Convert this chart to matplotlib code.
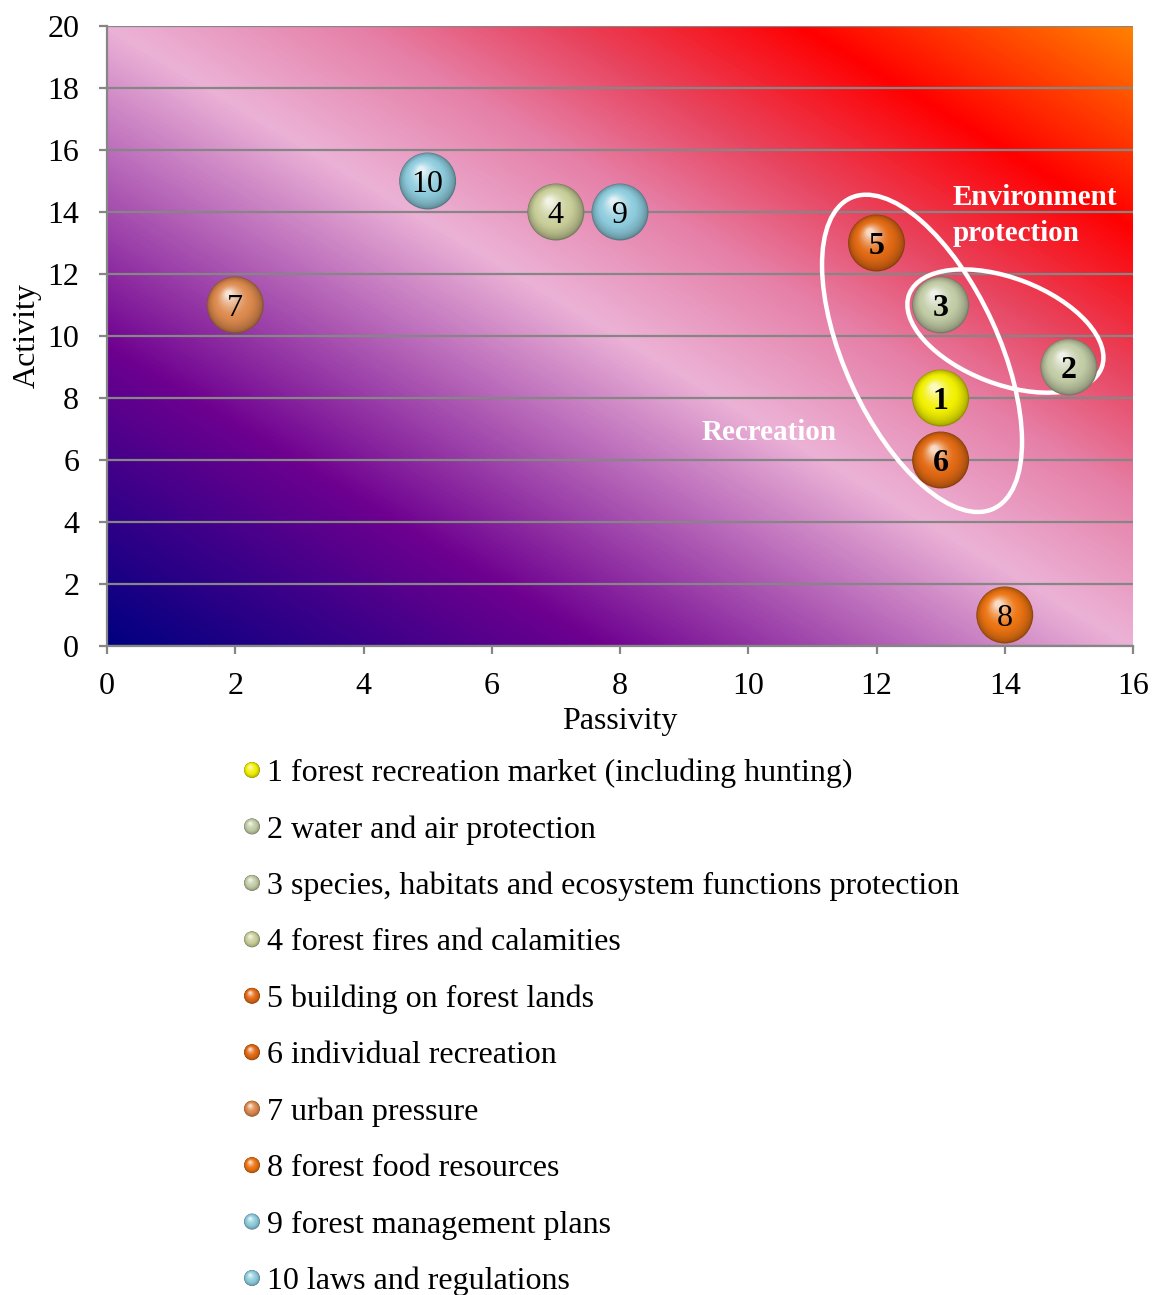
"""Matriz de actividad / pasividad de los factores forestales"""
import matplotlib
matplotlib.use("Agg")
import matplotlib.pyplot as plt
import numpy as np
from matplotlib.colors import LinearSegmentedColormap, to_rgb
from matplotlib.patches import Ellipse
from matplotlib.transforms import offset_copy, ScaledTranslation


# Datos
NUMEROS = [1, 2, 3, 4, 5, 6, 7, 8, 9, 10]
PASIVIDAD = [13, 15, 13, 7, 12, 13, 2, 14, 8, 5]
ACTIVIDAD = [8, 9, 11, 14, 13, 6, 11, 1, 14, 15]
NOMBRES = [
    "forest recreation market (including hunting)",
    "water and air protection",
    "species, habitats and ecosystem functions protection",
    "forest fires and calamities",
    "building on forest lands",
    "individual recreation",
    "urban pressure",
    "forest food resources",
    "forest management plans",
    "laws and regulations",
]
COLORES = ["#F2F000", "#C2CCA6", "#C2CCA6", "#CACF9A", "#E26A14",
           "#E26A14", "#DD8A4E", "#EC7412", "#8ECCDD", "#8ECCDD"]
NEGRITA = [True, True, True, False, True, True, False, False, False, False]

# Constantes
FUENTE = "Liberation Serif"
GRIS = "#868686"
TAM_TEXTO = 23
plt.rcParams["font.family"] = FUENTE

# Degradado del fondo (de esquina inferior izquierda a superior derecha)
FONDO = LinearSegmentedColormap.from_list("fondo", [
    (0.00, "#000080"), (0.24, "#6E0090"), (0.50, "#ECB2D6"),
    (0.62, "#E680A8"), (0.72, "#E8445E"), (0.84, "#FF0000"),
    (1.00, "#FF8000")])


def _esfera(eje, xs, ys, colores, diametro, zorder, transform=None):
    # Dibuja esferas sombreadas apilando círculos cada vez más claros
    if transform is None:
        transform = eje.transData
    base = np.array([to_rgb(c) for c in colores])
    oscuro = base * 0.6
    brillo = base + (1 - base) * 0.75
    capas = 30
    for i in range(capas):
        f = i / (capas - 1)
        tam = diametro * (1 - 0.88 * f)
        if f < 0.4:
            g = f / 0.4
            col = oscuro + (base - oscuro) * np.sqrt(g)
        else:
            g = (f - 0.4) / 0.6
            col = base + (brillo - base) * g ** 1.5
        desp = diametro * 0.5 * 0.38 * f
        tr = offset_copy(transform, fig=eje.figure, x=-desp * 0.6, y=desp,
                         units="points")
        eje.scatter(xs, ys, s=tam ** 2, c=np.clip(col, 0, 1), transform=tr,
                    linewidths=0, zorder=zorder, clip_on=False)


fig = plt.figure(figsize=(11.52, 12.95), dpi=100)
eje = fig.add_axes([107 / 1152, 1 - 646 / 1295, 1026 / 1152, 620 / 1295])
eje.set_xlim(0, 16)
eje.set_ylim(0, 20)

# Fondo degradado
u = np.linspace(0, 1, 600)
v = np.linspace(0, 1, 600)
U, V = np.meshgrid(u, v)
eje.imshow((U + V) / 2, cmap=FONDO, extent=[0, 16, 0, 20], origin="lower",
           aspect="auto", zorder=0, interpolation="bilinear")

eje.set_yticks(np.arange(0, 21, 2))
eje.set_xticks(np.arange(0, 17, 2))
eje.grid(axis="y", color=GRIS, linewidth=1.6, zorder=1)
eje.set_axisbelow(True)
for lado in ["top", "right"]:
    eje.spines[lado].set_visible(False)
for lado in ["left", "bottom"]:
    eje.spines[lado].set_color(GRIS)
    eje.spines[lado].set_linewidth(1.6)
eje.tick_params(direction="out", length=6, width=1.6, color=GRIS,
                labelsize=TAM_TEXTO)
eje.tick_params(axis="x", pad=13)
eje.tick_params(axis="y", pad=14)
eje.set_xlabel("Passivity", fontsize=TAM_TEXTO, labelpad=4)
eje.set_ylabel("Activity", fontsize=TAM_TEXTO, labelpad=4)

# Agrupaciones
for cx, cy, a, b, ang in [(12.71, 9.44, 171, 77, -65.3),
                          (14.01, 10.16, 103, 53, -20.9)]:
    tr = fig.dpi_scale_trans + ScaledTranslation(cx, cy, eje.transData)
    eje.add_patch(Ellipse((0, 0), 2 * a / 100, 2 * b / 100, angle=ang,
                          transform=tr, fill=False, edgecolor="white",
                          linewidth=3.2, zorder=3))

eje.text(13.18, 13.9, "Environment\nprotection", color="white",
         fontsize=21, fontweight="bold", ha="left", va="center",
         linespacing=1.42, zorder=4)
eje.text(10.32, 6.9, "Recreation", color="white", fontsize=21,
         fontweight="bold", ha="center", va="center", zorder=4)

# Puntos
_esfera(eje, PASIVIDAD, ACTIVIDAD, COLORES, 41, zorder=5)
for n, x, y, negrita in zip(NUMEROS, PASIVIDAD, ACTIVIDAD, NEGRITA):
    eje.text(x, y, str(n), fontsize=23, ha="center", va="center_baseline",
             fontweight="bold" if negrita else "normal", zorder=6)

# Leyenda
ley = fig.add_axes([0, 0, 1, 1], zorder=-1)
ley.set_xlim(0, 1152)
ley.set_ylim(1295, 0)
ley.axis("off")
filas = 770 + 56.45 * np.arange(len(NUMEROS))
_esfera(ley, np.full(len(NUMEROS), 252), filas, COLORES, 11.5, zorder=2)
for n, nombre, fy in zip(NUMEROS, NOMBRES, filas):
    ley.text(267, fy, f"{n} {nombre}", fontsize=TAM_TEXTO, ha="left",
             va="center_baseline")

fig.savefig("out.png", dpi=100)
